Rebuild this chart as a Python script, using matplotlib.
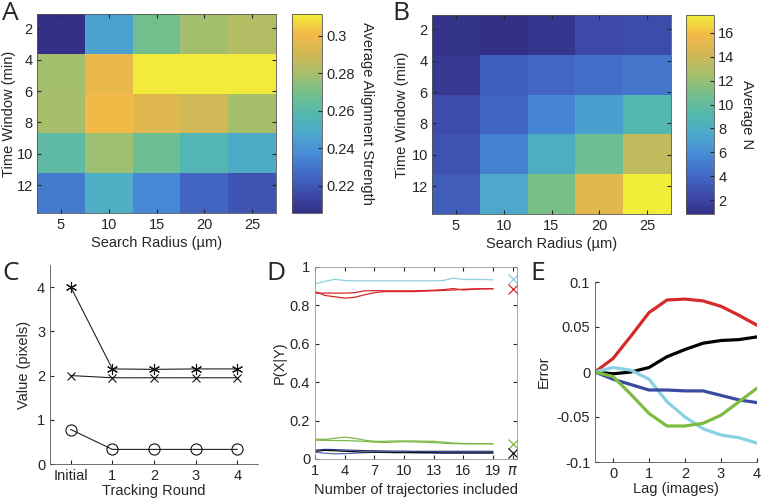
import matplotlib
matplotlib.use('Agg')
import matplotlib.pyplot as plt
import numpy as np
from matplotlib.colors import LinearSegmentedColormap

plt.rcParams['font.family'] = ['Liberation Sans', 'DejaVu Sans']
plt.rcParams['font.size'] = 10.5
plt.rcParams['text.color'] = '#262626'
plt.rcParams['axes.labelcolor'] = '#262626'
plt.rcParams['xtick.color'] = '#262626'
plt.rcParams['ytick.color'] = '#262626'
plt.rcParams['axes.edgecolor'] = '#555555'
plt.rcParams['axes.linewidth'] = 0.6

# heatmap data (rows = time window, cols = search radius)
radius = [5, 10, 15, 20, 25]
window_ticks = [2, 4, 6, 8, 10, 12]
align = np.array([
    [0.206, 0.245, 0.269, 0.279, 0.283],
    [0.279, 0.298, 0.311, 0.311, 0.311],
    [0.280, 0.301, 0.295, 0.290, 0.280],
    [0.262, 0.278, 0.267, 0.257, 0.250],
    [0.232, 0.251, 0.236, 0.225, 0.219],
])
avg_n = np.array([
    [1.0, 0.85, 1.2, 2.3, 2.4],
    [1.3, 3.5, 3.9, 4.3, 4.8],
    [2.5, 3.8, 5.5, 6.9, 9.0],
    [2.8, 5.2, 8.0, 10.5, 13.5],
    [3.4, 7.5, 11.0, 15.0, 17.5],
])

# panel C
rounds = ['Initial', '1', '2', '3', '4']
star_vals = [4.0, 2.15, 2.14, 2.15, 2.15]
cross_vals = [2.0, 1.95, 1.95, 1.95, 1.95]
circle_vals = [0.78, 0.33, 0.33, 0.33, 0.33]

# panel D
n_traj = list(range(1, 20))
d_cyan = [0.912, 0.925, 0.936, 0.93, 0.928, 0.928, 0.928, 0.928, 0.928, 0.928,
          0.928, 0.928, 0.928, 0.93, 0.942, 0.935, 0.935, 0.935, 0.933]
d_red1 = [0.872, 0.852, 0.845, 0.838, 0.842, 0.855, 0.866, 0.872, 0.872, 0.872,
          0.872, 0.874, 0.876, 0.878, 0.88, 0.884, 0.886, 0.887, 0.887]
d_red2 = [0.864, 0.864, 0.864, 0.864, 0.866, 0.876, 0.877, 0.876, 0.876, 0.876,
          0.876, 0.877, 0.879, 0.882, 0.888, 0.88, 0.884, 0.886, 0.887]
d_green1 = [0.104, 0.102, 0.108, 0.114, 0.108, 0.098, 0.092, 0.092, 0.094, 0.094,
            0.094, 0.093, 0.092, 0.088, 0.083, 0.081, 0.08, 0.08, 0.08]
d_green2 = [0.098, 0.097, 0.096, 0.096, 0.094, 0.092, 0.088, 0.086, 0.088, 0.09,
            0.089, 0.087, 0.085, 0.082, 0.08, 0.079, 0.079, 0.079, 0.079]
d_navy = [0.046, 0.05, 0.049, 0.047, 0.045, 0.044, 0.043, 0.042, 0.041, 0.041,
          0.04, 0.04, 0.04, 0.04, 0.04, 0.04, 0.04, 0.04, 0.04]
d_black = [0.04, 0.045, 0.043, 0.04, 0.038, 0.036, 0.035, 0.035, 0.034, 0.034,
           0.034, 0.033, 0.033, 0.032, 0.032, 0.032, 0.032, 0.032, 0.032]
d_blue = [0.036, 0.03, 0.027, 0.028, 0.03, 0.033, 0.035, 0.034, 0.033, 0.033,
          0.032, 0.032, 0.031, 0.03, 0.03, 0.03, 0.03, 0.03, 0.03]
pi_vals = [0.935, 0.885, 0.08, 0.03]

# panel E
lag = [-0.5, 0, 0.5, 1, 1.5, 2, 2.5, 3, 3.5, 4]
e_red = [0, 0.015, 0.04, 0.066, 0.080, 0.081, 0.079, 0.073, 0.063, 0.052]
e_black = [0, -0.002, 0.0, 0.005, 0.017, 0.025, 0.032, 0.035, 0.036, 0.039]
e_cyan = [0, 0.005, 0.002, -0.008, -0.033, -0.050, -0.063, -0.070, -0.073, -0.079]
e_blue = [0, -0.008, -0.014, -0.020, -0.020, -0.021, -0.021, -0.026, -0.031, -0.034]
e_green = [0, -0.005, -0.025, -0.046, -0.060, -0.060, -0.057, -0.048, -0.033, -0.018]

# muted parula-like map, picked off the reference colorbars
parula = LinearSegmentedColormap.from_list('parula', [
    (0.00, (0.20, 0.19, 0.53)),
    (0.10, (0.24, 0.30, 0.67)),
    (0.20, (0.26, 0.42, 0.78)),
    (0.30, (0.28, 0.55, 0.84)),
    (0.40, (0.30, 0.66, 0.80)),
    (0.50, (0.33, 0.72, 0.68)),
    (0.60, (0.45, 0.75, 0.55)),
    (0.70, (0.65, 0.75, 0.42)),
    (0.80, (0.82, 0.72, 0.33)),
    (0.90, (0.95, 0.72, 0.28)),
    (1.00, (0.95, 0.93, 0.22)),
])

W, H = 762, 503
fig = plt.figure(figsize=(W / 100, H / 100), dpi=100)


def box(x0, y0, x1, y1):
    return [x0 / W, 1 - y1 / H, (x1 - x0) / W, (y1 - y0) / H]


xe = np.arange(2.5, 28, 5)
ye = np.linspace(1.085, 13.77, 6)


def heat(ax, cax, data, vmin, vmax, cticks, clabel, ylab_x):
    im = ax.pcolormesh(xe, ye, data, cmap=parula, vmin=vmin, vmax=vmax)
    ax.set_xlim(2.5, 27.5)
    ax.set_ylim(13.77, 1.085)
    ax.set_xticks(radius)
    ax.set_yticks(window_ticks)
    ax.tick_params(direction='in', length=3, top=True, right=True)
    ax.tick_params(axis='y', pad=3)
    ax.set_xlabel('Search Radius (µm)', labelpad=3)
    ax.set_ylabel('Time Window (min)')
    ax.yaxis.set_label_coords(ylab_x, 0.5)
    cb = fig.colorbar(im, cax=cax, ticks=cticks)
    cb.outline.set_linewidth(0.6)
    cb.outline.set_edgecolor('#555555')
    cax.tick_params(direction='in', length=3, pad=3)
    cb.set_label(clabel, rotation=-90, va='bottom', labelpad=4)
    return cb


axA = fig.add_axes(box(37, 14, 276, 213))
caxA = fig.add_axes(box(292, 14, 322, 213))
cbA = heat(axA, caxA, align, 0.2056, 0.3117, [0.22, 0.24, 0.26, 0.28, 0.3],
           'Average Alignment Strength', -0.088)
cbA.ax.set_yticklabels(['0.22', '0.24', '0.26', '0.28', '0.3'])

axB = fig.add_axes(box(432, 15, 671, 214))
caxB = fig.add_axes(box(686, 15, 714, 214))
heat(axB, caxB, avg_n, 0.83, 17.5, [2, 4, 6, 8, 10, 12, 14, 16], 'Average N', -0.096)

# C
axC = fig.add_axes(box(50, 265, 258, 464))
xc = np.arange(len(rounds))
axC.plot(xc, star_vals, color='#222222', lw=0.8, marker=(6, 2, 0), ms=8,
         mec='#111111', mew=0.8)
axC.plot(xc, cross_vals, color='#222222', lw=0.8, marker='x', ms=6,
         mec='#111111', mew=0.8)
axC.plot(xc, circle_vals, color='#222222', lw=0.8, marker='o', ms=8,
         mfc='none', mec='#111111', mew=0.8)
axC.set_xlim(-0.5, 4.5)
axC.set_ylim(0, 4.5)
axC.set_xticks(xc)
axC.set_xticklabels(rounds)
axC.set_yticks([0, 1, 2, 3, 4])
axC.spines['top'].set_visible(False)
axC.spines['right'].set_visible(False)
axC.tick_params(direction='in', length=3)
axC.set_xlabel('Tracking Round', labelpad=1)
axC.set_ylabel('Value (pixels)')

# D
axD = fig.add_axes(box(315, 267, 517, 459))
cyan_c, red_c, green_c, navy_c = '#8fd0e0', '#d7262b', '#7cb94a', '#2a3a8c'
axD.plot(n_traj, d_cyan, color=cyan_c, lw=0.9)
axD.plot(n_traj, d_red1, color=red_c, lw=0.9)
axD.plot(n_traj, d_red2, color=red_c, lw=0.9)
axD.plot(n_traj, d_green1, color=green_c, lw=0.9)
axD.plot(n_traj, d_green2, color=green_c, lw=0.9)
axD.plot(n_traj, d_blue, color='#5a6ab8', lw=0.9)
axD.plot(n_traj, d_navy, color=navy_c, lw=0.9)
axD.plot(n_traj, d_black, color='#111111', lw=0.9)
for v, c in zip(pi_vals, [cyan_c, red_c, green_c, '#111111']):
    axD.plot([21], [v], marker='x', color=c, ms=7, mew=0.9)
axD.set_xlim(1, 21.45)
axD.set_ylim(0, 1)
axD.set_xticks([1, 4, 7, 10, 13, 16, 19, 21])
axD.set_xticklabels(['1', '4', '7', '10', '13', '16', '19', r'$\pi$'])
axD.set_yticks([0, 0.2, 0.4, 0.6, 0.8, 1])
axD.set_yticklabels(['0', '0.2', '0.4', '0.6', '0.8', '1'])
axD.tick_params(direction='in', length=3, top=True, right=True)
for s in axD.spines.values():
    s.set_edgecolor('#999999')
axD.set_xlabel('Number of trajectories included')
axD.set_ylabel('P(X|Y)', labelpad=2)

# E
axE = fig.add_axes(box(595, 282, 757, 462))
axE.plot(lag, e_red, color='#d42a2a', lw=2.3)
axE.plot(lag, e_black, color='#000000', lw=2.3)
axE.plot(lag, e_cyan, color='#8bd0e3', lw=2.3)
axE.plot(lag, e_blue, color='#3a4aa0', lw=2.3)
axE.plot(lag, e_green, color='#7cbc42', lw=2.3)
axE.set_xlim(-0.5, 4)
axE.set_ylim(-0.1, 0.1)
axE.set_xticks([0, 1, 2, 3, 4])
axE.set_yticks([-0.1, -0.05, 0, 0.05, 0.1])
axE.set_yticklabels(['-0.1', '-0.05', '0', '0.05', '0.1'])
axE.spines['top'].set_visible(False)
axE.spines['right'].set_visible(False)
axE.tick_params(direction='in', length=3)
axE.set_xlabel('Lag (images)', labelpad=1)
axE.set_ylabel('Error')

for lab, x, y in [('A', 2, 1), ('B', 392, 1), ('C', 2, 261), ('D', 266, 261), ('E', 530, 261)]:
    fig.text(x / W, 1 - y / H, lab, fontsize=19, va='top', ha='left',
             family=['Open Sans', 'DejaVu Sans'])

fig.savefig('out.png', dpi=100)
